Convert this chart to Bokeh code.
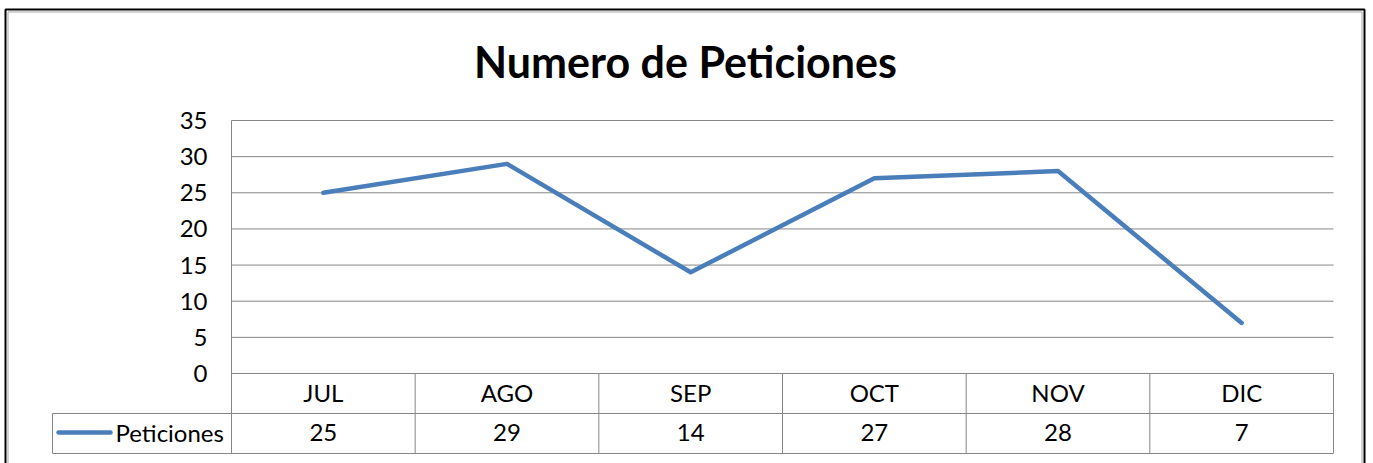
from bokeh.plotting import figure
from bokeh.models import Range1d, LinearAxis, FixedTicker
from bokeh.core.properties import value
from bokeh.embed import file_html
from bokeh.resources import INLINE

# ---- data ----
months = ["JUL", "AGO", "SEP", "OCT", "NOV", "DIC"]
peticiones = [25, 29, 14, 27, 28, 7]
series_name = "Peticiones"
chart_title = "Numero de Peticiones"
y_ticks = [0, 5, 10, 15, 20, 25, 30, 35]

# ---- geometry (canvas pixels) ----
W, H = 1373, 463
PA_LEFT, PA_RIGHT = 231, 1333      # plot area left/right
Y0_PX, YTOP_PX = 373, 120          # pixel of y=0 and y=35
CAT_BOTTOM = 413                   # bottom of category row
TABLE_BOTTOM = 453                 # bottom of data table
LEG_LEFT = 52                      # left edge of legend cell

n = len(months)
pxx = (PA_RIGHT - PA_LEFT) / n
pxy = (Y0_PX - YTOP_PX) / max(y_ticks)

def dx(cx):
    return (cx - PA_LEFT) / pxx

def dy(cy):
    return (Y0_PX - cy) / pxy

FONT = "Lato"
GRID = "#868686"
BLUE = "#4a7ebb"

p = figure(width=W, height=H, output_backend="svg", toolbar_location=None,
           x_axis_location=None, y_axis_location=None,
           x_range=Range1d(dx(0), dx(W)), y_range=Range1d(dy(H), dy(0)),
           min_border_left=0, min_border_right=0, min_border_top=0, min_border_bottom=0,
           background_fill_color="white", border_fill_color="white")
p.outline_line_color = None
p.grid.grid_line_color = None

# outer chart border (bottom edge lies below the visible area)
p.quad(left=[dx(5)], right=[dx(1364)], top=[dy(9)], bottom=[dy(H + 30)],
       fill_color=None, line_color="black", line_width=2)
p.quad(left=[dx(7.5)], right=[dx(1361.5)], top=[dy(11.5)], bottom=[dy(H + 30)],
       fill_color=None, line_color="#a6a6a6", line_width=1)

# horizontal gridlines (plot area)
p.segment(x0=[0] * len(y_ticks), x1=[n] * len(y_ticks), y0=y_ticks, y1=y_ticks,
          line_color=GRID, line_width=1)

# data table lines
x_leg = dx(LEG_LEFT)
y_cat = dy(CAT_BOTTOM)
y_bot = dy(TABLE_BOTTOM)
p.segment(x0=[x_leg, x_leg], x1=[n, n], y0=[y_cat, y_bot], y1=[y_cat, y_bot],
          line_color=GRID, line_width=1)
p.segment(x0=[0], x1=[0], y0=[max(y_ticks)], y1=[y_bot], line_color=GRID, line_width=1)
seps = list(range(1, n + 1))
p.segment(x0=seps, x1=seps, y0=[0] * len(seps), y1=[y_bot] * len(seps),
          line_color=GRID, line_width=1)
p.segment(x0=[x_leg], x1=[x_leg], y0=[y_cat], y1=[y_bot], line_color=GRID, line_width=1)

# data line
xs = [i + 0.5 for i in range(n)]
p.line(xs, peticiones, line_color=BLUE, line_width=4.5, line_join="round", line_cap="round")

# category labels and values (centred in their table cells)
y_cat_mid = dy((Y0_PX + CAT_BOTTOM) / 2 - 1)
y_val_mid = dy((CAT_BOTTOM + TABLE_BOTTOM) / 2 - 1)
p.text(x=xs, y=[y_cat_mid] * n, text=months, text_font=value(FONT), text_font_size="24px",
       text_align="center", text_baseline="middle", text_color="black")
p.text(x=xs, y=[y_val_mid] * n, text=[str(v) for v in peticiones], text_font=value(FONT),
       text_font_size="24px", text_align="center", text_baseline="middle", text_color="black")

# legend key
p.line([dx(58), dx(110)], [y_val_mid, y_val_mid], line_color=BLUE, line_width=4.5, line_cap="round")
p.text(x=[dx(115)], y=[y_val_mid], text=[series_name], text_font=value(FONT), text_font_size="24px",
       text_align="left", text_baseline="middle", text_color="black")

# title
p.text(x=[dx(685)], y=[dy(61)], text=[chart_title], text_font=value(FONT), text_font_size="43px",
       text_font_style="bold", text_align="center", text_baseline="middle", text_color="black")

# y axis drawn at the plot-area edge
yaxis = LinearAxis(ticker=FixedTicker(ticks=y_ticks), fixed_location=0)
yaxis.axis_line_color = None
yaxis.major_tick_line_color = None
yaxis.minor_tick_line_color = None
yaxis.major_tick_out = 0
yaxis.major_tick_in = 0
yaxis.major_label_standoff = 24
yaxis.major_label_text_font = FONT
yaxis.major_label_text_font_size = "24px"
yaxis.major_label_text_color = "black"
p.add_layout(yaxis, "left")

open("out.html", "w").write(file_html(p, INLINE))
